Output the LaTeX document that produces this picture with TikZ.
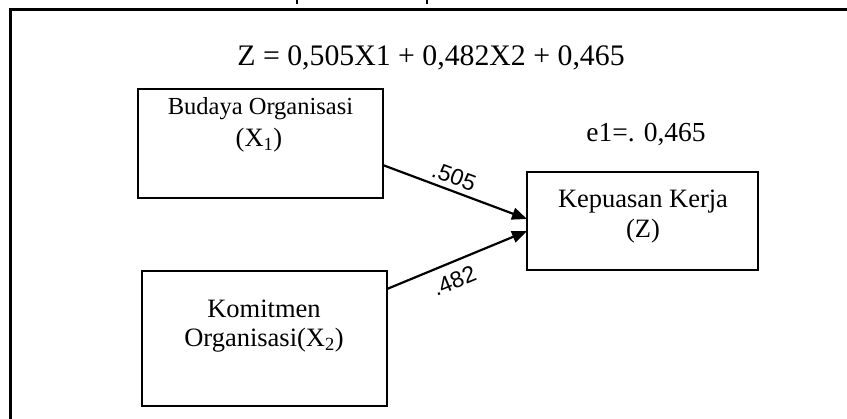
\documentclass[tikz,border=0pt]{standalone}
\usepackage{fontspec}
\setmainfont{Liberation Serif}
\newfontfamily\coeffont{Liberation Sans}
\usetikzlibrary{arrows.meta}
\begin{document}
\begin{tikzpicture}[x=1pt,y=-1pt,
  varbox/.style={draw, line width=2.5pt, inner sep=0pt, outer sep=0pt},
  boxtext/.style={anchor=base, inner sep=0pt, font=\fontsize{26.5}{32}\selectfont},
  path/.style={line width=2.2pt, -{Triangle[length=15pt,width=12pt]}},
  coef/.style={sloped, inner sep=0pt, font=\coeffont\fontsize{23}{27}\selectfont}]
  \useasboundingbox (0,0) rectangle (847,419);
  % outer frame (only its top and left sides fall inside the page)
  \draw[line width=3pt] (10.5,419) -- (10.5,10) -- (847,10);
  \draw[line width=1.5pt] (297,0) -- (297,4);
  \draw[line width=1.5pt] (427,0) -- (427,4);

  % regression equation
  \node[anchor=base, inner sep=0pt, font=\fontsize{29.8}{34}\selectfont] (eq) at (431,66)
    {Z = 0,505X1 + 0,482X2 + 0,465};

  % variable boxes
  \node[varbox, minimum width=245pt, minimum height=109pt] (b1) at (260.5,143.5) {};
  \node[varbox, minimum width=245pt, minimum height=135pt] (b2) at (264.5,338.5) {};
  \node[varbox, minimum width=231pt, minimum height=98pt] (b3) at (642.5,221) {};

  \node[boxtext, font=\fontsize{24.5}{30}\selectfont] (t1a) at (260.5,115) {Budaya Organisasi};
  \node[boxtext] (t1b) at (259,147) {(X\textsubscript{1})};
  \node[boxtext] (t2a) at (264,318) {Komitmen};
  \node[boxtext] (t2b) at (264,347) {Organisasi(X\textsubscript{2})};
  \node[boxtext] (t3a) at (643,208) {Kepuasan Kerja};
  \node[boxtext] (t3b) at (643,238) {(Z)};

  % residual
  \node[anchor=base, inner sep=0pt, font=\fontsize{27.5}{32}\selectfont] (e1) at (646,142) {e1=. 0,465};

  % paths
  \draw[path] (b1.-10) -- node[coef, above=5pt, pos=0.46] (c1) {.505} (b3.179.5);
  \draw[path] (b2.22.4) -- node[coef, below=9pt, pos=0.43] (c2) {.482} (b3.185.9);
\end{tikzpicture}
\end{document}
